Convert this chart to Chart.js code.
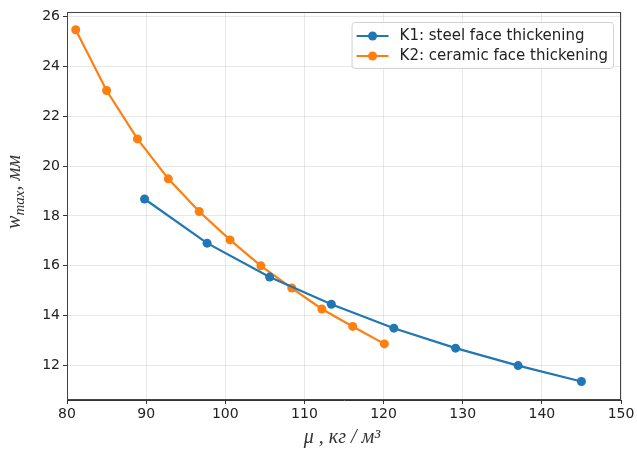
<!DOCTYPE html>
<html>
<head>
<meta charset="utf-8">
<script src="https://cdn.jsdelivr.net/npm/chart.js@4/dist/chart.umd.min.js"></script>
<style>
  html, body { margin: 0; padding: 0; background: #fff; }
  #wrap { width: 637px; height: 454px; position: relative; }
</style>
</head>
<body>
<div id="wrap"><canvas id="c" width="637" height="454"></canvas></div>
<script>
// Areal density μ (kg/m²) and maximum deflection w_max (mm)
const k1Label = 'K1: steel face thickening';
const k1Mass = [89.8, 97.7, 105.6, 113.4, 121.3, 129.1, 137.0, 145.0];
const k1Deflection = [18.68, 16.91, 15.55, 14.46, 13.50, 12.70, 12.00, 11.36];

const k2Label = 'K2: ceramic face thickening';
const k2Mass = [81.1, 85.0, 88.9, 92.8, 96.7, 100.6, 104.5, 108.4, 112.2, 116.1, 120.1];
const k2Deflection = [25.47, 23.03, 21.09, 19.49, 18.18, 17.04, 16.00, 15.11, 14.27, 13.57, 12.87];

const xTicks = [80, 90, 100, 110, 120, 130, 140, 150];
const yTicks = [12, 14, 16, 18, 20, 22, 24, 26];

const BLUE = '#1f77b4';
const ORANGE = '#ff7f0e';
const TICK_FONT = { family: 'DejaVu Sans', size: 14 };

const toPoints = (xs, ys) => xs.map((x, i) => ({ x, y: ys[i] }));

// Frame around the plotting area, axis titles and an in-axes legend
const decorations = {
  id: 'decorations',
  afterDraw(chart) {
    const { ctx, chartArea: a } = chart;
    ctx.save();
    ctx.strokeStyle = '#444';
    ctx.lineWidth = 1;
    ctx.strokeRect(a.left + 0.5, a.top + 0.5, a.right - a.left - 1, a.bottom - a.top - 1);

    // x axis title: μ , кг / м³
    ctx.fillStyle = '#333';
    ctx.font = 'italic 20px "Liberation Serif"';
    ctx.textAlign = 'center';
    ctx.textBaseline = 'alphabetic';
    ctx.fillText('μ , кг / м³', 342, 443);

    // y axis title: w_max, мм (rotated, with subscript)
    ctx.translate(20, 192);
    ctx.rotate(-Math.PI / 2);
    ctx.textAlign = 'left';
    const mainFont = 'italic 20px "Liberation Serif"';
    const subFont = 'italic 15px "Liberation Serif"';
    ctx.font = mainFont;
    const w1 = ctx.measureText('w').width;
    ctx.font = subFont;
    const w2 = ctx.measureText('max').width;
    ctx.font = mainFont;
    const w3 = ctx.measureText(', мм').width;
    const x0 = -(w1 + w2 + w3) / 2;
    ctx.fillText('w', x0, 0);
    ctx.font = subFont;
    ctx.fillText('max', x0 + w1, 4);
    ctx.font = mainFont;
    ctx.fillText(', мм', x0 + w1 + w2, 0);
    ctx.restore();

    // Legend
    ctx.save();
    ctx.font = '15px "DejaVu Sans"';
    const items = chart.data.datasets.map(d => ({ label: d.label, color: d.borderColor }));
    const textW = Math.max(...items.map(it => ctx.measureText(it.label).width));
    const sampleW = 32, gap = 11, padX = 5, rowH = 20;
    const boxW = padX + sampleW + gap + textW + padX;
    const boxH = items.length * rowH + 6;
    const bx = a.right - 8 - boxW;
    const by = a.top + 10;
    ctx.fillStyle = 'rgba(255,255,255,0.85)';
    ctx.strokeStyle = '#d2d2d2';
    ctx.lineWidth = 1;
    ctx.beginPath();
    ctx.roundRect(bx + 0.5, by + 0.5, boxW, boxH, 3);
    ctx.fill();
    ctx.stroke();
    items.forEach((it, i) => {
      const cy = by + 3 + rowH * i + rowH / 2 + 1;
      const sx = bx + padX;
      ctx.strokeStyle = it.color;
      ctx.lineWidth = 2;
      ctx.beginPath();
      ctx.moveTo(sx, cy);
      ctx.lineTo(sx + sampleW, cy);
      ctx.stroke();
      ctx.fillStyle = it.color;
      ctx.beginPath();
      ctx.arc(sx + sampleW / 2, cy, 4.5, 0, Math.PI * 2);
      ctx.fill();
      ctx.fillStyle = '#222';
      ctx.textAlign = 'left';
      ctx.textBaseline = 'middle';
      ctx.fillText(it.label, sx + sampleW + gap, cy);
    });
    ctx.restore();
  }
};

new Chart(document.getElementById('c'), {
  type: 'scatter',
  data: {
    datasets: [
      {
        label: k1Label,
        data: toPoints(k1Mass, k1Deflection),
        showLine: true,
        borderColor: BLUE,
        backgroundColor: BLUE,
        borderWidth: 2.2,
        pointRadius: 4.5,
        pointHoverRadius: 4.5,
        pointBorderWidth: 0
      },
      {
        label: k2Label,
        data: toPoints(k2Mass, k2Deflection),
        showLine: true,
        borderColor: ORANGE,
        backgroundColor: ORANGE,
        borderWidth: 2.2,
        pointRadius: 4.5,
        pointHoverRadius: 4.5,
        pointBorderWidth: 0
      }
    ]
  },
  options: {
    responsive: false,
    animation: false,
    layout: { padding: { top: 12, right: 16, left: 0, bottom: 0 } },
    plugins: {
      legend: { display: false },
      tooltip: { enabled: false }
    },
    scales: {
      x: {
        type: 'linear',
        min: 80,
        max: 150,
        afterBuildTicks: s => { s.ticks = xTicks.map(v => ({ value: v })); },
        afterFit: s => { s.height = 54; },
        ticks: { font: TICK_FONT, color: '#222', padding: 2, maxRotation: 0 },
        grid: { color: 'rgba(0,0,0,0.09)', tickColor: '#333', tickLength: 4 },
        border: { color: '#333', width: 1 }
      },
      y: {
        type: 'linear',
        min: 10.62,
        max: 26.18,
        afterBuildTicks: s => { s.ticks = yTicks.map(v => ({ value: v })); },
        afterFit: s => { s.width = 67; },
        ticks: { font: TICK_FONT, color: '#222', padding: 3 },
        grid: { color: 'rgba(0,0,0,0.09)', tickColor: '#333', tickLength: 4 },
        border: { color: '#333', width: 1 }
      }
    }
  },
  plugins: [decorations]
});
</script>
</body>
</html>
